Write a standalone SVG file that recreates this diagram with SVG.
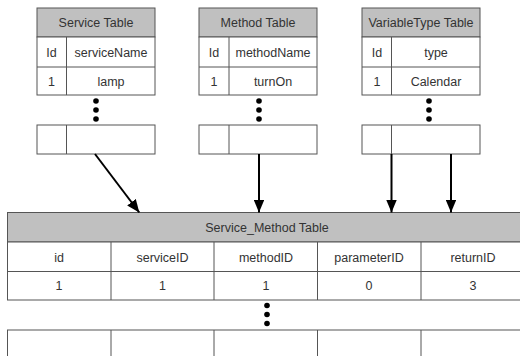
<svg xmlns="http://www.w3.org/2000/svg" width="520" height="356" viewBox="0 0 520 356">
<defs>
<style>
.b{fill:#fff;stroke:#555;stroke-width:1}
.h{fill:#c0c0c0;stroke:#555;stroke-width:1}
.l{stroke:#555;stroke-width:1;fill:none}
text{font-family:"Liberation Sans",Arial,sans-serif;font-size:12.5px;fill:#333;text-anchor:middle}
.c{stroke:#000;stroke-width:2;fill:none;marker-end:url(#ah)}
.d{fill:#000}
</style>
<marker id="ah" viewBox="0 0 12 10" refX="12" refY="5" markerWidth="6.5" markerHeight="5.4" orient="auto" markerUnits="strokeWidth">
<path d="M0,0 L12,5 L0,10 Z" fill="#000"/>
</marker>
</defs>
<rect width="520" height="356" fill="#fff"/>
<g id="service-table">
<rect class="h" x="37" y="8" width="118" height="29"/>
<rect class="b" x="37" y="37" width="118" height="58"/>
<line class="l" x1="37" y1="67" x2="155" y2="67"/>
<line class="l" x1="66.5" y1="37" x2="66.5" y2="95"/>
<text x="96" y="27">Service Table</text>
<text x="51.5" y="56.5">Id</text>
<text x="111" y="56.5">serviceName</text>
<text x="51.5" y="85.5">1</text>
<text x="111" y="85.5">lamp</text>
<circle class="d" cx="96" cy="101" r="2.8"/>
<circle class="d" cx="96" cy="110" r="2.8"/>
<circle class="d" cx="96" cy="119" r="2.8"/>
<rect class="b" x="37" y="125" width="118" height="29"/>
<line class="l" x1="66.5" y1="125" x2="66.5" y2="154"/>
</g>
<g id="method-table">
<rect class="h" x="199" y="8" width="118" height="29"/>
<rect class="b" x="199" y="37" width="118" height="58"/>
<line class="l" x1="199" y1="67" x2="317" y2="67"/>
<line class="l" x1="229" y1="37" x2="229" y2="95"/>
<text x="258" y="27">Method Table</text>
<text x="214" y="56.5">Id</text>
<text x="273" y="56.5">methodName</text>
<text x="214" y="85.5">1</text>
<text x="273" y="85.5">turnOn</text>
<circle class="d" cx="259" cy="101" r="2.8"/>
<circle class="d" cx="259" cy="110" r="2.8"/>
<circle class="d" cx="259" cy="119" r="2.8"/>
<rect class="b" x="199" y="125" width="118" height="29"/>
<line class="l" x1="229" y1="125" x2="229" y2="154"/>
</g>
<g id="variabletype-table">
<rect class="h" x="362" y="8" width="118" height="29"/>
<rect class="b" x="362" y="37" width="118" height="58"/>
<line class="l" x1="362" y1="67" x2="480" y2="67"/>
<line class="l" x1="391.5" y1="37" x2="391.5" y2="95"/>
<text x="421" y="27">VariableType Table</text>
<text x="377" y="56.5">Id</text>
<text x="436" y="56.5">type</text>
<text x="377" y="85.5">1</text>
<text x="436" y="85.5">Calendar</text>
<circle class="d" cx="429" cy="101" r="2.8"/>
<circle class="d" cx="429" cy="110" r="2.8"/>
<circle class="d" cx="429" cy="119" r="2.8"/>
<rect class="b" x="362" y="125" width="118" height="29"/>
<line class="l" x1="391.5" y1="125" x2="391.5" y2="154"/>
</g>
<g id="service-method-table">
<rect class="h" x="7.5" y="212.5" width="520" height="29.5"/>
<rect class="b" x="7.5" y="242" width="520" height="58"/>
<line class="l" x1="7.5" y1="271.5" x2="527.5" y2="271.5"/>
<line class="l" x1="111" y1="242" x2="111" y2="300"/>
<line class="l" x1="214" y1="242" x2="214" y2="300"/>
<line class="l" x1="317.5" y1="242" x2="317.5" y2="300"/>
<line class="l" x1="421" y1="242" x2="421" y2="300"/>
<text x="267" y="231.5">Service_Method Table</text>
<text x="59" y="261.5">id</text>
<text x="162.5" y="261.5">serviceID</text>
<text x="266" y="261.5">methodID</text>
<text x="369" y="261.5">parameterID</text>
<text x="473" y="261.5">returnID</text>
<text x="59" y="290">1</text>
<text x="162.5" y="290">1</text>
<text x="266" y="290">1</text>
<text x="369" y="290">0</text>
<text x="473" y="290">3</text>
<circle class="d" cx="267" cy="305.5" r="2.8"/>
<circle class="d" cx="267" cy="314.5" r="2.8"/>
<circle class="d" cx="267" cy="323.5" r="2.8"/>
<rect class="b" x="7.5" y="330" width="520" height="40"/>
<line class="l" x1="111" y1="330" x2="111" y2="370"/>
<line class="l" x1="214" y1="330" x2="214" y2="370"/>
<line class="l" x1="317.5" y1="330" x2="317.5" y2="370"/>
<line class="l" x1="421" y1="330" x2="421" y2="370"/>
</g>
<g id="connectors">
<line class="c" x1="95" y1="154" x2="139.3" y2="212.5"/>
<line class="c" x1="259" y1="154" x2="259" y2="212.5"/>
<line class="c" x1="391.5" y1="154" x2="391.5" y2="212.5"/>
<line class="c" x1="451" y1="154" x2="451" y2="212.5"/>
</g>
</svg>
